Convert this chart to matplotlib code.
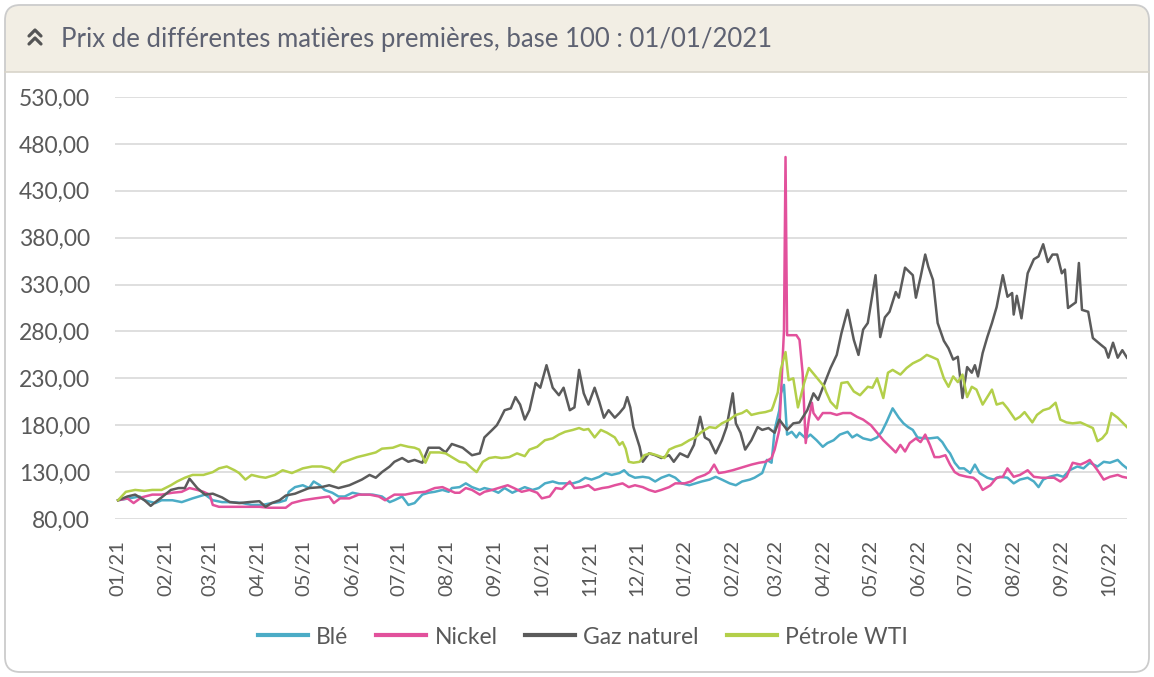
import numpy as np
import pandas as pd
import matplotlib
matplotlib.use("Agg")
import matplotlib.pyplot as plt
import matplotlib.dates as mdates
from matplotlib.patches import FancyBboxPatch, Rectangle
from matplotlib.ticker import FuncFormatter

# ---------------- data (days since 01/01/2021, index base 100) ----------------
title = "Prix de différentes matières premières, base 100 : 01/01/2021"
series_names = ["Blé", "Nickel", "Gaz naturel", "Pétrole WTI"]
series_colors = ["#4BACC6", "#E2519C", "#5B5B5B", "#B3CF4A"]

ble_days = [0, 7, 14, 17, 24, 28, 35, 41, 48, 52, 56, 61, 67, 73, 80, 86, 93, 99, 104, 108, 110, 114, 119, 123, 126, 130, 133, 138, 142, 146, 151, 157, 164, 170, 175, 178, 183, 187, 191, 196, 200, 204, 209, 213, 215, 220, 224, 228, 233, 236, 241, 245, 249, 254, 258, 262, 267, 271, 275, 280, 284, 288, 293, 297, 301, 305, 310, 314, 318, 323, 326, 329, 333, 338, 342, 346, 350, 355, 359, 363, 368, 372, 376, 381, 385, 389, 394, 398, 402, 407, 410, 415, 418, 421, 423, 426, 427, 429, 431, 433, 434, 437, 439, 443, 446, 450, 454, 457, 461, 465, 470, 473, 476, 480, 485, 489, 492, 495, 499, 503, 506, 509, 512, 515, 519, 523, 528, 531, 534, 536, 539, 542, 545, 549, 552, 555, 560, 564, 568, 573, 577, 581, 586, 590, 593, 596, 600, 605, 609, 613, 618, 622, 626, 631, 635, 639, 644, 647, 650]
ble_vals = [100, 102, 104, 100, 97, 100, 100, 98, 102, 104, 106, 100, 98, 98, 97, 95, 95, 97, 98, 100, 109, 114, 116, 113, 120, 116, 111, 108, 104, 104, 108, 106, 106, 104, 98, 100, 104, 95, 97, 106, 108, 109, 111, 109, 113, 114, 118, 114, 111, 113, 111, 108, 113, 108, 111, 114, 111, 113, 118, 120, 118, 118, 118, 120, 124, 122, 125, 129, 127, 129, 132, 127, 124, 125, 124, 120, 124, 127, 124, 118, 116, 118, 120, 122, 125, 122, 118, 116, 120, 122, 124, 129, 143, 140, 175, 196, 214, 223, 170, 172, 173, 167, 172, 166, 170, 164, 157, 161, 164, 170, 173, 167, 170, 166, 164, 167, 173, 183, 198, 188, 182, 178, 175, 167, 166, 166, 167, 162, 154, 150, 140, 134, 134, 129, 138, 129, 124, 122, 125, 124, 118, 122, 124, 120, 114, 122, 125, 127, 125, 132, 136, 134, 140, 136, 141, 140, 143, 138, 134]

nickel_days = [0, 6, 10, 15, 22, 28, 35, 41, 46, 51, 55, 59, 61, 65, 72, 78, 84, 91, 97, 104, 108, 112, 119, 127, 136, 139, 143, 149, 155, 162, 168, 172, 178, 185, 191, 198, 204, 209, 213, 217, 220, 224, 228, 233, 236, 241, 245, 251, 255, 260, 265, 270, 273, 278, 282, 286, 291, 294, 299, 303, 307, 312, 316, 320, 325, 329, 333, 338, 342, 346, 350, 355, 359, 365, 369, 373, 378, 381, 384, 387, 391, 396, 400, 404, 408, 413, 417, 421, 423, 426, 427, 429, 430, 431, 437, 439, 441, 442, 443, 445, 447, 448, 451, 454, 459, 463, 467, 472, 476, 480, 485, 489, 493, 498, 501, 504, 507, 510, 514, 517, 520, 523, 526, 529, 533, 536, 539, 542, 547, 551, 554, 557, 562, 566, 570, 573, 577, 581, 586, 590, 595, 599, 603, 607, 611, 615, 620, 624, 626, 631, 635, 639, 644, 647, 650]
nickel_vals = [100, 102, 97, 103, 106, 106, 108, 109, 113, 111, 109, 106, 95, 93, 93, 93, 93, 93, 92, 92, 92, 97, 100, 102, 104, 97, 102, 102, 106, 106, 104, 100, 106, 106, 108, 109, 113, 114, 111, 108, 108, 113, 111, 106, 109, 111, 113, 116, 113, 109, 111, 108, 102, 104, 113, 112, 120, 113, 114, 116, 111, 113, 114, 116, 118, 114, 116, 114, 111, 109, 111, 114, 118, 118, 120, 124, 127, 130, 138, 129, 130, 132, 134, 136, 138, 140, 141, 145, 154, 175, 210, 281, 466, 276, 276, 271, 236, 199, 161, 186, 204, 193, 186, 193, 193, 191, 193, 193, 189, 186, 180, 172, 164, 156, 151, 159, 152, 161, 166, 162, 170, 159, 146, 146, 148, 138, 130, 127, 125, 124, 120, 111, 116, 124, 125, 134, 125, 127, 132, 125, 124, 124, 124, 120, 125, 140, 138, 141, 143, 132, 122, 125, 127, 125, 124]

gaz_days = [0, 6, 11, 17, 21, 24, 28, 34, 39, 43, 46, 51, 56, 61, 67, 72, 78, 84, 91, 95, 99, 104, 108, 114, 123, 131, 136, 142, 149, 157, 162, 166, 170, 175, 178, 183, 187, 191, 196, 200, 207, 211, 215, 222, 228, 233, 236, 241, 244, 246, 249, 253, 256, 259, 262, 265, 269, 272, 276, 280, 284, 287, 291, 294, 297, 300, 303, 307, 310, 313, 316, 320, 323, 326, 328, 330, 332, 336, 338, 342, 346, 350, 355, 358, 362, 367, 371, 375, 378, 381, 385, 389, 392, 396, 398, 401, 404, 408, 412, 415, 419, 423, 426, 431, 435, 439, 444, 448, 451, 454, 459, 463, 466, 470, 474, 477, 480, 483, 488, 491, 494, 497, 501, 503, 507, 512, 514, 517, 520, 522, 525, 528, 532, 535, 538, 541, 544, 547, 550, 552, 554, 557, 560, 563, 566, 570, 573, 576, 577, 579, 582, 586, 590, 593, 596, 599, 602, 605, 608, 610, 612, 617, 619, 621, 625, 628, 633, 636, 638, 641, 644, 647, 650]
gaz_vals = [100, 104, 106, 100, 94, 98, 103, 111, 113, 113, 123, 113, 106, 107, 103, 98, 97, 98, 99, 93, 97, 100, 105, 107, 113, 114, 116, 113, 116, 122, 127, 124, 130, 136, 141, 145, 141, 143, 140, 156, 156, 151, 160, 156, 148, 150, 167, 175, 180, 186, 196, 198, 210, 202, 186, 196, 225, 220, 244, 220, 212, 220, 196, 199, 239, 214, 202, 220, 205, 188, 196, 188, 193, 199, 210, 199, 178, 157, 141, 150, 148, 145, 148, 141, 150, 146, 159, 189, 167, 164, 150, 164, 178, 214, 182, 172, 154, 164, 178, 175, 177, 172, 186, 175, 182, 183, 196, 214, 207, 220, 241, 255, 278, 303, 271, 255, 282, 289, 340, 274, 295, 301, 322, 316, 348, 340, 316, 338, 362, 349, 335, 289, 270, 262, 250, 253, 209, 242, 236, 244, 232, 257, 274, 289, 306, 340, 317, 321, 298, 318, 294, 342, 357, 360, 373, 354, 362, 362, 342, 346, 305, 311, 353, 303, 301, 273, 266, 262, 252, 268, 252, 260, 252]

wti_days = [0, 5, 11, 17, 22, 28, 34, 38, 43, 48, 52, 55, 61, 65, 70, 75, 78, 82, 86, 91, 95, 101, 106, 112, 119, 125, 131, 136, 139, 144, 149, 154, 159, 166, 170, 177, 182, 187, 191, 194, 198, 201, 207, 211, 215, 220, 224, 228, 231, 235, 239, 243, 247, 252, 257, 262, 265, 270, 275, 280, 284, 288, 293, 297, 300, 303, 307, 311, 315, 320, 323, 325, 327, 329, 332, 336, 339, 343, 347, 352, 355, 359, 363, 368, 372, 376, 381, 385, 389, 394, 398, 402, 405, 408, 413, 417, 421, 422, 425, 427, 430, 432, 435, 438, 442, 445, 450, 455, 456, 459, 463, 466, 470, 474, 478, 483, 486, 489, 493, 496, 499, 504, 508, 512, 517, 521, 524, 528, 532, 535, 538, 541, 544, 547, 550, 553, 557, 560, 563, 566, 570, 573, 578, 581, 584, 589, 592, 596, 600, 604, 607, 611, 615, 620, 624, 628, 631, 634, 637, 640, 644, 647, 650]
wti_vals = [100, 109, 111, 110, 111, 111, 116, 120, 124, 127, 127, 127, 130, 134, 136, 132, 129, 122, 127, 125, 124, 127, 132, 129, 134, 136, 136, 134, 130, 140, 143, 146, 148, 151, 155, 156, 159, 157, 156, 154, 140, 151, 151, 150, 146, 141, 140, 134, 130, 141, 145, 146, 145, 146, 150, 147, 154, 157, 164, 166, 170, 173, 175, 177, 175, 176, 167, 175, 172, 167, 159, 162, 155, 141, 140, 141, 148, 150, 148, 145, 154, 157, 159, 164, 167, 173, 178, 177, 182, 186, 191, 193, 196, 191, 193, 194, 196, 200, 215, 240, 258, 228, 230, 199, 225, 241, 231, 221, 216, 205, 198, 225, 226, 216, 212, 221, 220, 230, 209, 236, 239, 234, 241, 246, 250, 255, 253, 250, 230, 221, 232, 226, 234, 210, 221, 218, 202, 210, 218, 202, 204, 198, 186, 189, 194, 183, 191, 196, 198, 204, 186, 183, 182, 183, 180, 177, 163, 166, 172, 193, 188, 183, 178]

y_ticks = [80, 130, 180, 230, 280, 330, 380, 430, 480, 530]
start_date = "2021-01-01"

# ---------------- figure ----------------
W, H = 1154, 677
FONT = "Lato"
TXT = "#595959"
fig = plt.figure(figsize=(W / 100, H / 100), dpi=100)
fig.patch.set_facecolor("white")

# background "card"
bg = fig.add_axes([0, 0, 1, 1])
bg.set_xlim(0, W)
bg.set_ylim(H, 0)
bg.axis("off")
bg.set_zorder(0)
cx0, cy0, cw, ch = 5, 5, 1144, 667
bg.add_patch(FancyBboxPatch((cx0, cy0), cw, ch, boxstyle="round,pad=0,rounding_size=15",
                            fc="white", ec="none"))
bg.add_patch(FancyBboxPatch((cx0, cy0), cw, 110, boxstyle="round,pad=0,rounding_size=15",
                            fc="#F2EEE4", ec="none"))
bg.add_patch(Rectangle((cx0, 72), cw, 60, fc="white", ec="none"))
bg.plot([cx0, cx0 + cw], [72, 72], color="#D8D4CA", lw=1.2)
bg.add_patch(FancyBboxPatch((cx0, cy0), cw, ch, boxstyle="round,pad=0,rounding_size=15",
                            fc="none", ec="#CCCCCC", lw=1.3))
# double chevron icon
bg.plot([29, 35, 41], [36, 30, 36], color="#555555", lw=2.3, solid_capstyle="round")
bg.plot([29, 35, 41], [44, 38, 44], color="#555555", lw=2.3, solid_capstyle="round")
bg.text(61, 39, title, ha="left", va="center", fontsize=18.5, color="#5E6272", family=FONT)

# main axes
ax = fig.add_axes([115 / W, 1 - 519 / H, (1127 - 115) / W, (519 - 97) / H])
ax.set_zorder(1)
ax.patch.set_alpha(0)
base = pd.Timestamp(start_date)

all_days = [ble_days, nickel_days, gaz_days, wti_days]
all_vals = [ble_vals, nickel_vals, gaz_vals, wti_vals]
for name, col, d, v in zip(series_names, series_colors, all_days, all_vals):
    x = base + pd.to_timedelta(np.array(d), unit="D")
    ax.plot(x, v, color=col, lw=1.8, label=name, solid_joinstyle="round")

ax.set_xlim(base - pd.Timedelta(days=2), base + pd.Timedelta(days=650))
ax.set_ylim(y_ticks[0], y_ticks[-1])
ax.set_yticks(y_ticks)
ax.yaxis.set_major_formatter(FuncFormatter(lambda v, p: f"{v:.2f}".replace(".", ",")))
ax.xaxis.set_major_locator(mdates.MonthLocator())
ax.xaxis.set_major_formatter(mdates.DateFormatter("%m/%y"))
ax.grid(axis="y", color="#D9D9D9", lw=1.2)
ax.set_axisbelow(True)
for s in ax.spines.values():
    s.set_visible(False)
ax.tick_params(axis="both", length=0, colors=TXT)
ax.tick_params(axis="y", pad=18, labelsize=16.5)
ax.tick_params(axis="x", pad=15, labelsize=14.5, labelrotation=90)
for lab in ax.get_xticklabels() + ax.get_yticklabels():
    lab.set_family(FONT)

leg = fig.legend(loc="center", bbox_to_anchor=(583 / W, 1 - 637 / H), ncol=4, frameon=False,
                 prop={"family": FONT, "size": 16.5}, handlelength=2.18, handletextpad=0.35,
                 columnspacing=1.22, labelcolor=TXT)
for lh in leg.get_lines():
    lh.set_linewidth(3)

fig.savefig("out.png", dpi=100, facecolor="white")
